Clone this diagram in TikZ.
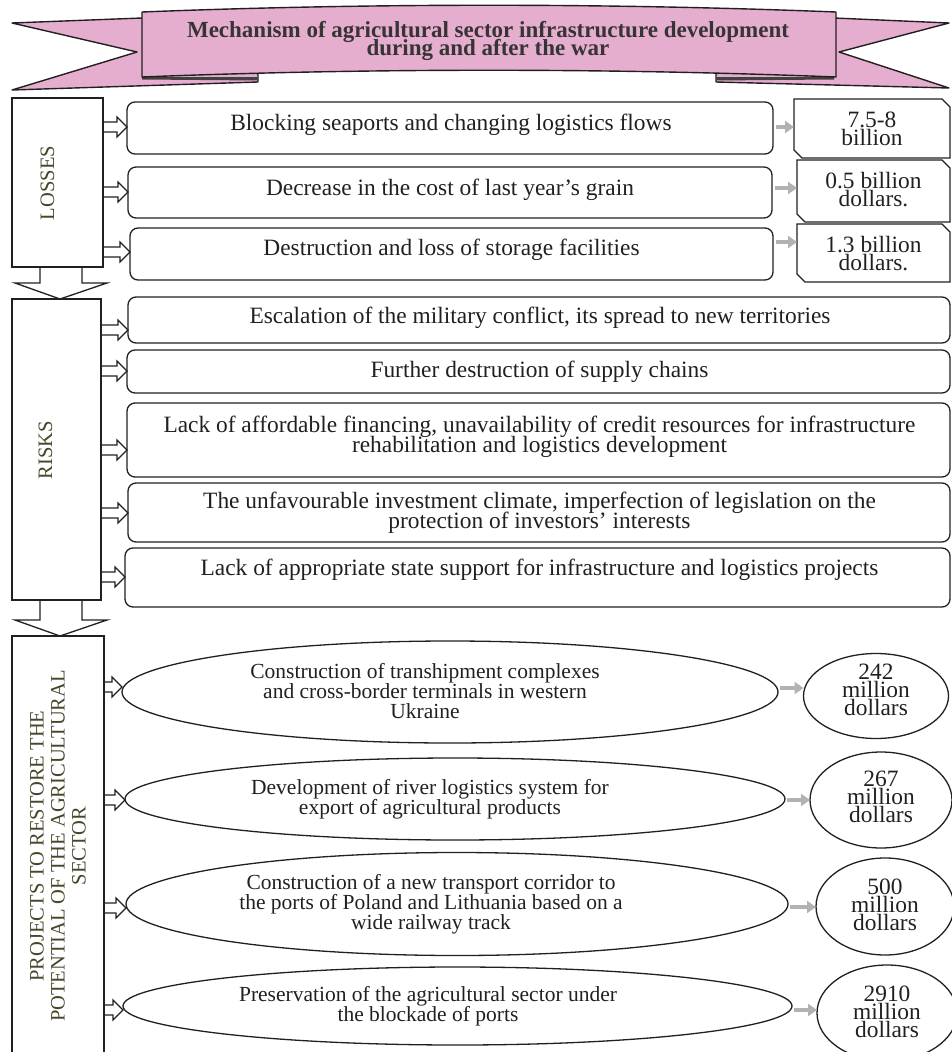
\documentclass[tikz,border=0pt]{standalone}
\usepackage{fontspec}
\setmainfont{Liberation Serif}
\usetikzlibrary{shapes.geometric,arrows.meta,calc}
\definecolor{ribbon}{RGB}{230,174,206}
\definecolor{sidetxt}{RGB}{72,70,42}
\definecolor{ink}{RGB}{35,31,32}
\definecolor{titletxt}{RGB}{55,52,53}
\definecolor{garrowc}{RGB}{178,178,178}
\tikzset{
  lw/.style={draw=ink, line width=1.3pt},
  rbox/.style={lw, rectangle, rounded corners=8pt, inner sep=0pt, outer sep=0pt},
  sidebox/.style={lw, rectangle, inner sep=0pt, outer sep=0pt},
  holder/.style={rectangle, inner sep=0pt, outer sep=0pt},
  body/.style={font={\fontsize{23.4}{19.5}\selectfont\lineskiplimit=-50pt}, text=ink, inner sep=0pt, align=center},
  valtxt/.style={font={\fontsize{23.4}{18}\selectfont\lineskiplimit=-50pt}, text=ink, inner sep=0pt, align=center},
  elltxt/.style={font={\fontsize{21.5}{20}\selectfont\lineskiplimit=-50pt}, text=ink, inner sep=0pt, align=center},
  ellbox/.style={lw, ellipse, inner sep=0pt, outer sep=0pt},
  sidelab/.style={font={\fontsize{20.5}{21}\selectfont\lineskiplimit=-50pt}, text=sidetxt, rotate=90, align=center, inner sep=0pt},
  harrow/.style={draw=ink, line width=1.1pt, line join=miter, to path={let \p1=(\tikztostart), \p2=(\tikztotarget) in (\x1,\y1+5pt) -- (\x2-10pt,\y1+5pt) -- (\x2-10pt,\y1+10pt) -- (\x2,\y1) -- (\x2-10pt,\y1-10pt) -- (\x2-10pt,\y1-5pt) -- (\x1,\y1-5pt)}},
  blockdown/.style={lw, line join=miter, to path={let \p1=(\tikztostart), \p2=(\tikztotarget) in (\x1-21pt,\y1) -- (\x1-21pt,\y2+16pt) -- (\x1-46pt,\y2+16pt) -- (\x2,\y2) -- (\x1+46pt,\y2+16pt) -- (\x1+21pt,\y2+16pt) -- (\x1+21pt,\y1)}},
  garr/.style={draw=garrowc, line width=4pt, -{Triangle[length=9pt,width=12pt]}},
  bannerline/.style={draw=ink, line width=1.4pt, line join=round, fill=ribbon},
}
\newcommand\chamferbox[1]{\draw[lw, line join=miter] (#1.north west) -- ([xshift=-8pt]#1.north east) -- ([yshift=-8pt]#1.north east) -- (#1.south east) -- ([xshift=8pt]#1.south west) -- ([yshift=8pt]#1.south west) -- cycle;}
\begin{document}
\begin{tikzpicture}[x=1pt,y=-1pt]
\useasboundingbox (0,0) rectangle (951,1052);
% ---------- banner ----------
\draw[bannerline] (142,18) -- (12,23) -- (137,52) -- (12,90) -- (258,82) -- (258,74) -- cycle;
\draw[bannerline] (834,18) -- (949,23) -- (839,52) -- (949,88) -- (716,82) -- (716,74) -- cycle;
\fill[ink!85] (142,77) -- (258,77) -- (258,80.5) -- (142,79.5) -- cycle;
\fill[ink!85] (716,77) -- (834,77) -- (834,79.5) -- (716,80.5) -- cycle;
\draw[bannerline] (142,12) .. controls (370,3) and (608,3) .. (836,12) -- (836,77) .. controls (608,68) and (370,68) .. (142,77) -- cycle;
\node[font={\fontsize{23}{18}\selectfont\bfseries\lineskiplimit=-50pt}, text=titletxt, align=center, inner sep=0pt] (title) at (488,41) {Mechanism of agricultural sector infrastructure development\\during and after the war};
% ---------- side boxes ----------
\node[sidebox, minimum width=91, minimum height=169] (L) at (57.5,182.5) {};
\node[sidelab] (Lt) at (47.5,183) {LOSSES};
\node[sidebox, minimum width=89, minimum height=301] (R) at (56.5,449.5) {};
\node[sidelab] (Rt) at (45.5,450) {RISKS};
\node[sidebox, minimum width=92, minimum height=430] (P) at (58,851) {};
\node[sidelab] (Pt) at (58,846) {PROJECTS TO RESTORE THE\\POTENTIAL OF THE AGRICULTURAL\\SECTOR};
\draw[blockdown] (L.south -| 61,0) to (R.north -| 60,0);
\draw[blockdown] (R.south -| 61,0) to (P.north -| 60,0);
% ---------- losses ----------
\node[rbox, minimum width=646, minimum height=52] (b1) at (450,128) {};
\node[body, anchor=base] (b1t) at (451,130) {Blocking seaports and changing logistics flows};
\node[rbox, minimum width=644, minimum height=51] (b2) at (450,192.5) {};
\node[body, anchor=base] (b2t) at (450,195) {Decrease in the cost of last year's grain};
\node[rbox, minimum width=643, minimum height=52] (b3) at (451.5,254) {};
\node[body, anchor=base] (b3t) at (451.5,255) {Destruction and loss of storage facilities};
\node[holder, minimum width=156, minimum height=59] (v1) at (872,128.5) {};
\chamferbox{v1}
\node[valtxt, anchor=north] (v1t) at (872,112.2) {7.5-8\\billion};
\node[holder, minimum width=153, minimum height=62] (v2) at (873.5,191) {};
\chamferbox{v2}
\node[valtxt, anchor=north] (v2t) at (873.5,172.2) {0.5 billion\\dollars.};
\node[holder, minimum width=153, minimum height=58] (v3) at (873.5,253) {};
\chamferbox{v3}
\node[valtxt, anchor=north] (v3t) at (873.5,236.2) {1.3 billion\\dollars.};
\draw[harrow] (L.east |- 0,127) to (b1.west |- 0,127);
\draw[harrow] (L.east |- 0,192) to (b2.west |- 0,192);
\draw[harrow] (L.east |- 0,252) to (b3.west |- 0,252);
\draw[garr, shorten <=3pt] (b1.east |- 0,127) -- (v1.west |- 0,127);
\draw[garr, shorten <=3pt] (b2.east |- 0,188) -- (v2.west |- 0,188);
\draw[garr, shorten <=3pt] (b3.east |- 0,242) -- (v3.west |- 0,242);
% ---------- risks ----------
\node[rbox, minimum width=822, minimum height=46] (r1) at (539,320) {};
\node[body, anchor=base] (r1t) at (540,323) {Escalation of the military conflict, its spread to new territories};
\node[rbox, minimum width=823, minimum height=43] (r2) at (538.5,371.5) {};
\node[body, anchor=base] (r2t) at (539.5,377) {Further destruction of supply chains};
\node[rbox, minimum width=823, minimum height=74] (r3) at (538.5,440) {};
\node[body, anchor=north] (r3t) at (539.5,416) {Lack of affordable financing, unavailability of credit resources for infrastructure\\rehabilitation and logistics development};
\node[rbox, minimum width=822, minimum height=59] (r4) at (539,512.5) {};
\node[body, anchor=north] (r4t) at (539.5,492) {The unfavourable investment climate, imperfection of legislation on the\\protection of investors' interests};
\node[rbox, minimum width=825, minimum height=59] (r5) at (537.5,577.5) {};
\node[body, anchor=base] (r5t) at (539.5,575) {Lack of appropriate state support for infrastructure and logistics projects};
\draw[harrow] (R.east |- 0,330) to (r1.west |- 0,330);
\draw[harrow] (R.east |- 0,371) to (r2.west |- 0,371);
\draw[harrow] (R.east |- 0,450) to (r3.west |- 0,450);
\draw[harrow] (R.east |- 0,513) to (r4.west |- 0,513);
\draw[harrow] (R.east |- 0,577) to (r5.west |- 0,577);
% ---------- projects ----------
\node[ellbox, minimum width=656, minimum height=102] (e1) at (450,692) {};
\node[elltxt] (e1t) at (425,691) {Construction of transhipment complexes\\and cross-border terminals in western\\Ukraine};
\node[ellbox, minimum width=660, minimum height=82] (e2) at (455,799) {};
\node[elltxt] (e2t) at (430,799) {Development of river logistics system for\\export of agricultural products};
\node[ellbox, minimum width=662, minimum height=103] (e3) at (457,904) {};
\node[elltxt] (e3t) at (431,904) {Construction of a new transport corridor to\\the ports of Poland and Lithuania based on a\\wide railway track};
\node[ellbox, minimum width=669, minimum height=78] (e4) at (457.5,1006) {};
\node[elltxt] (e4t) at (428,1006) {Preservation of the agricultural sector under\\the blockade of ports};
\node[ellbox, minimum width=145, minimum height=85] (w1) at (876,696) {};
\node[valtxt, anchor=north] (w1t) at (876,664.2) {242\\million\\dollars};
\node[ellbox, minimum width=142, minimum height=96] (w2) at (881,800) {};
\node[valtxt, anchor=north] (w2t) at (881,771.2) {267\\million\\dollars};
\node[ellbox, minimum width=138, minimum height=97] (w3) at (885,906.5) {};
\node[valtxt, anchor=north] (w3t) at (885,879.2) {500\\million\\dollars};
\node[ellbox, minimum width=140, minimum height=96] (w4) at (887,1013) {};
\node[valtxt, anchor=north] (w4t) at (887,986.2) {2910\\million\\dollars};
\draw[harrow] (P.east |- 0,687) to (e1.west |- 0,687);
\draw[harrow] (P.east |- 0,800) to (e2.west |- 0,800);
\draw[harrow] (P.east |- 0,908) to (e3.west |- 0,908);
\draw[harrow] (P.east |- 0,1010) to (e4.west |- 0,1010);
\draw[garr, shorten <=2pt] (e1.east |- 0,688) -- (w1.west |- 0,688);
\draw[garr, shorten <=2pt] (e2.east |- 0,800) -- (w2.west |- 0,800);
\draw[garr, shorten <=2pt] (e3.east |- 0,907) -- (w3.west |- 0,907);
\draw[garr, shorten <=2pt] (e4.east |- 0,1010) -- (w4.west |- 0,1010);
\end{tikzpicture}
\end{document}
